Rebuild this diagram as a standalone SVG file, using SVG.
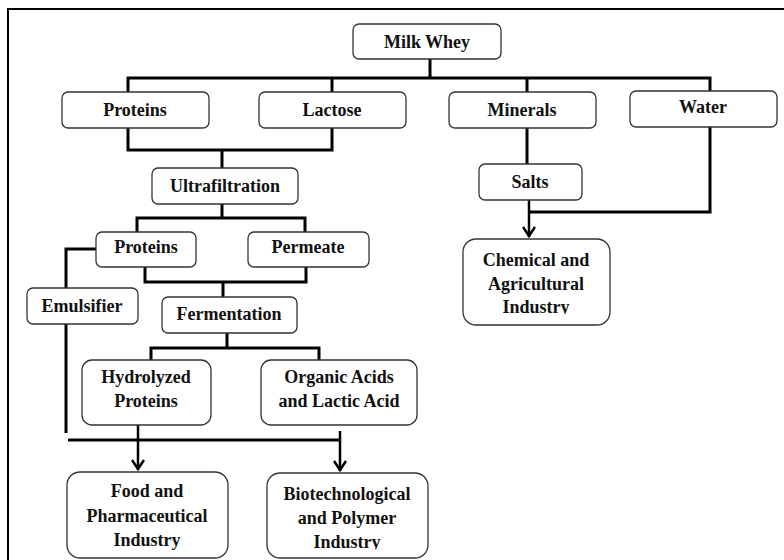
<svg xmlns="http://www.w3.org/2000/svg" width="784" height="560" viewBox="0 0 784 560">
<style>
.box{fill:#fff;stroke:#333;stroke-width:1.3}
.t{font-family:"Liberation Serif","Times New Roman",serif;font-weight:bold;font-size:18px;fill:#111;text-anchor:middle}
.c{fill:none;stroke:#000;stroke-width:3;stroke-linejoin:miter}
.a{fill:none;stroke:#000;stroke-width:2.5}
</style>
<defs>
<marker id="ah" markerWidth="14" markerHeight="14" viewBox="0 0 12 14" refX="11" refY="7" orient="auto" markerUnits="userSpaceOnUse">
<path d="M1,1 L10,7 L1,13" fill="none" stroke="#000" stroke-width="2.5"/>
</marker>
<clipPath id="clipChem"><rect x="460" y="236" width="155" height="78"/></clipPath>
<clipPath id="clipBio"><rect x="264" y="470" width="170" height="79.5"/></clipPath>
</defs>
<rect x="8" y="9" width="800" height="600" fill="#fff" stroke="#000" stroke-width="2"/>
<g id="connectors">
<path class="c" d="M430,59 V78 M128,92 V78 H710 V92 M332,78 V92 M527,78 V92"/>
<path class="c" d="M128,128 V150 H332 V128 M222,150 V168"/>
<path class="c" d="M527,128 V164"/>
<path class="c" d="M710,127 V212 H529"/>
<path class="a" d="M529,200 V237" marker-end="url(#ah)"/>
<path class="c" d="M222,204 V218 M137,232 V218 H305 V232"/>
<path class="c" d="M145,267 V282 H306 V267 M223,282 V297"/>
<path class="c" d="M227,333 V348 M151,360 V348 H319 V360"/>
<path class="c" d="M96,249 H66 V288 M66,324 V433"/>
<path class="c" d="M68,440 H340"/>
<path class="a" d="M138,425 V470" marker-end="url(#ah)"/>
<path class="a" d="M340,431 V471" marker-end="url(#ah)"/>
</g>
<g id="milk-whey"><rect class="box" x="353" y="24" width="148" height="35" rx="6"/><text class="t" x="427" y="48">Milk Whey</text></g>
<g id="proteins"><rect class="box" x="62" y="92" width="147" height="36" rx="6"/><text class="t" x="135" y="116">Proteins</text></g>
<g id="lactose"><rect class="box" x="259" y="92" width="147" height="36" rx="6"/><text class="t" x="332" y="116">Lactose</text></g>
<g id="minerals"><rect class="box" x="449" y="92" width="147" height="36" rx="6"/><text class="t" x="522" y="116">Minerals</text></g>
<g id="water"><rect class="box" x="630" y="91" width="147" height="36" rx="6"/><text class="t" x="703" y="113">Water</text></g>
<g id="ultrafiltration"><rect class="box" x="152" y="168" width="146" height="36" rx="6"/><text class="t" x="225" y="192">Ultrafiltration</text></g>
<g id="salts"><rect class="box" x="479" y="164" width="103" height="36" rx="6"/><text class="t" x="530" y="188">Salts</text></g>
<g id="chemical"><rect class="box" x="463" y="239" width="147" height="86" rx="13"/><g clip-path="url(#clipChem)"><text class="t" x="536" y="266">Chemical and</text><text class="t" x="536" y="290">Agricultural</text><text class="t" x="536" y="313">Industry</text></g></g>
<g id="proteins2"><rect class="box" x="96" y="232" width="100" height="35" rx="6"/><text class="t" x="146" y="253">Proteins</text></g>
<g id="permeate"><rect class="box" x="248" y="232" width="121" height="35" rx="6"/><text class="t" x="308" y="253">Permeate</text></g>
<g id="emulsifier"><rect class="box" x="27" y="288" width="111" height="36" rx="6"/><text class="t" x="82" y="312">Emulsifier</text></g>
<g id="fermentation"><rect class="box" x="162" y="297" width="135" height="36" rx="6"/><text class="t" x="229" y="320">Fermentation</text></g>
<g id="hydrolyzed"><rect class="box" x="82" y="360" width="129" height="65" rx="10"/><text class="t" x="146" y="383">Hydrolyzed</text><text class="t" x="146" y="407">Proteins</text></g>
<g id="organic"><rect class="box" x="261" y="360" width="156" height="65" rx="10"/><text class="t" x="339" y="383">Organic Acids</text><text class="t" x="339" y="407">and Lactic Acid</text></g>
<g id="food"><rect class="box" x="67" y="472" width="161" height="86" rx="13"/><text class="t" x="147" y="497">Food and</text><text class="t" x="147" y="522">Pharmaceutical</text><text class="t" x="147" y="546">Industry</text></g>
<g id="biotech"><rect class="box" x="267" y="473" width="161" height="85" rx="13"/><g clip-path="url(#clipBio)"><text class="t" x="347" y="500">Biotechnological</text><text class="t" x="347" y="524">and Polymer</text><text class="t" x="347" y="548">Industry</text></g></g>
</svg>
